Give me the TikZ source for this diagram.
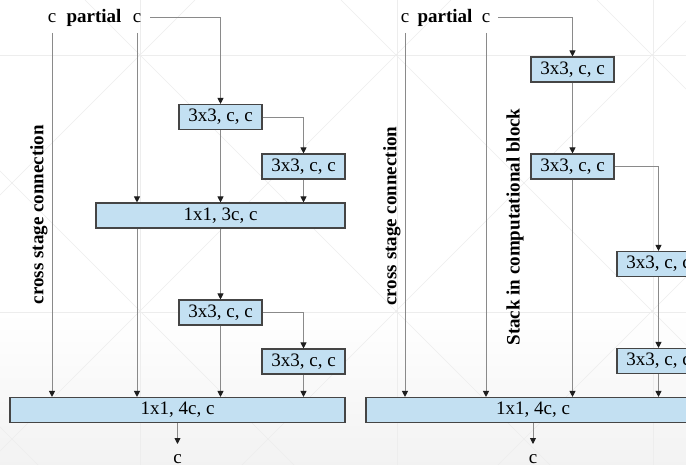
\documentclass[tikz,border=0pt]{standalone}
\usepackage{fontspec}
\setmainfont{Liberation Serif}
\usetikzlibrary{arrows.meta}
\definecolor{boxfill}{HTML}{C3E0F2}
\definecolor{boxline}{HTML}{454545}
\definecolor{wirec}{HTML}{8A8A8A}
\definecolor{tipc}{HTML}{1E1E1E}
\definecolor{markc}{HTML}{EDEDED}
\newcommand{\fs}{\rmfamily\fontsize{19}{22}\selectfont}
\tikzset{
  blk/.style={draw=boxline, fill=boxfill, line width=1.1pt, minimum height=25pt,
    inner sep=0pt, font=\fs, anchor=center},
  wire/.style={draw=wirec, line width=0.9pt,
    -{Triangle[length=6pt,width=6pt,color=tipc]}},
  lbl/.style={font=\fs, inner sep=0pt},
  blbl/.style={font=\fs\bfseries, inner sep=0pt},
  side/.style={font=\fs\bfseries, inner sep=0pt, rotate=90},
  faintline/.style={draw=markc, line width=0.6pt}
}
\begin{document}
\begin{tikzpicture}[x=1pt,y=-1pt]
\useasboundingbox (0,0) rectangle (686,465);
\clip (0,0) rectangle (686,465);
% faint backdrop
\fill[white] (0,0) rectangle (686,465);
\shade[top color=white, bottom color=black!5] (0,312) rectangle (686,465);
\foreach \gx in {140,397,653} \draw[faintline] (\gx,0) -- (\gx,465);
\foreach \gy in {55,312} \draw[faintline] (0,\gy) -- (686,\gy);
\foreach \k in {-3,...,3} {
  \draw[faintline] ({85+256*\k},0) -- ({85+256*\k+465},465);
  \draw[faintline] ({195+256*\k},0) -- ({195+256*\k-465},465);
}

% ---------------- left block ----------------
\node[lbl]  (lc1) at (52,18) {c};
\node[blbl] (lp)  at (94,18) {partial};
\node[lbl]  (lc2) at (137,18) {c};
\coordinate (ls) at (150,17);
\coordinate (lv1) at (52,33);
\coordinate (lv2) at (137,33);

\node[blk, minimum width=83pt]  (la1) at (220.5,117)   {3x3, c, c};
\node[blk, minimum width=83pt]  (la2) at (303.5,166.5) {3x3, c, c};
\node[blk, minimum width=249pt] (lb)  at (220.5,215.5) {1x1, 3c, c};
\node[blk, minimum width=83pt]  (la3) at (220.5,312.5) {3x3, c, c};
\node[blk, minimum width=83pt]  (la4) at (303.5,361.5) {3x3, c, c};
\node[blk, minimum width=335pt] (lc)  at (177.5,410)   {1x1, 4c, c};
\coordinate (lo) at (177.5,444);
\node[lbl] (lout) at (177.5,459) {c};

\node[side] (lcs) at (39,214.5) {cross stage connection};

\draw[wire] (ls) -| (la1.north);
\draw[wire] (la1.east) -| (la2.north);
\draw[wire] (la1.south) -- (la1.south |- lb.north);
\draw[wire] (la2.south) -- (la2.south |- lb.north);
\draw[wire] (lv2) -- (lv2 |- lb.north);
\draw[wire] (lb.south -| la1.south) -- (la3.north);
\draw[wire] (la3.east) -| (la4.north);
\draw[wire] (la3.south) -- (la3.south |- lc.north);
\draw[wire] (la4.south) -- (la4.south |- lc.north);
\draw[wire] (lb.south -| lv2) -- (lv2 |- lc.north);
\draw[wire] (lv1) -- (lv1 |- lc.north);
\draw[wire] (lc.south) -- (lo);

% ---------------- right block ----------------
\node[lbl]  (rc1) at (405,18) {c};
\node[blbl] (rp)  at (445,18) {partial};
\node[lbl]  (rc2) at (486,18) {c};
\coordinate (rs) at (498,17);
\coordinate (rv1) at (405,33);
\coordinate (rv2) at (486,33);

\node[blk, minimum width=83pt]  (ra1) at (572.5,69.5)  {3x3, c, c};
\node[blk, minimum width=83pt]  (ra2) at (572.5,166.5) {3x3, c, c};
\node[blk, minimum width=83pt]  (ra3) at (658.5,264)   {3x3, c, c};
\node[blk, minimum width=83pt]  (ra4) at (658.5,361)   {3x3, c, c};
\node[blk, minimum width=334pt] (rc)  at (533,410)     {1x1, 4c, c};
\coordinate (ro) at (533,444);
\node[lbl] (rout) at (533,459) {c};

\node[side] (rcs) at (392,216) {cross stage connection};
\node[side] (rst) at (515,227) {Stack in computational block};

\draw[wire] (rs) -| (ra1.north);
\draw[wire] (ra1.south) -- (ra2.north);
\draw[wire] (ra2.east) -| (ra3.north);
\draw[wire] (ra3.south) -- (ra4.north);
\draw[wire] (ra4.south) -- (ra4.south |- rc.north);
\draw[wire] (ra2.south) -- (ra2.south |- rc.north);
\draw[wire] (rv2) -- (rv2 |- rc.north);
\draw[wire] (rv1) -- (rv1 |- rc.north);
\draw[wire] (rc.south) -- (ro);
\end{tikzpicture}
\end{document}
